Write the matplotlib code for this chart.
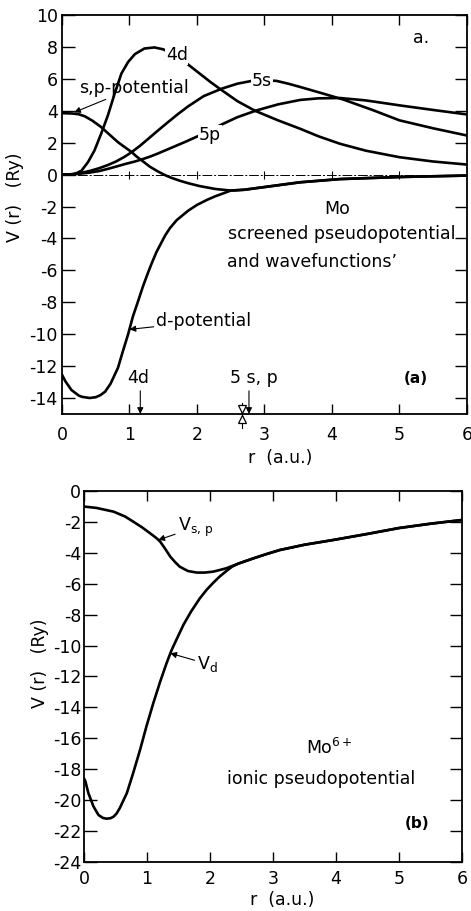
import matplotlib
matplotlib.use('Agg')
import matplotlib.pyplot as plt

plt.rcParams['font.family'] = ['DejaVu Sans']
plt.rcParams['font.size'] = 12.5
plt.rcParams['mathtext.default'] = 'regular'

# ---- panel (a): screened pseudopotential and wavefunctions ----
sp_r = [0, 0.15, 0.25, 0.34, 0.45, 0.58, 0.7, 0.83, 0.93, 1.03, 1.1, 1.2, 1.3, 1.42, 1.53,
        1.62, 1.75, 1.87, 2.04, 2.27, 2.5, 2.7, 3.0, 3.53, 4.12, 5.0, 6.0]
sp_v = [3.85, 3.83, 3.78, 3.65, 3.38, 2.98, 2.52, 2.03, 1.72, 1.42, 1.15, 0.83, 0.5, 0.2,
        -0.04, -0.2, -0.39, -0.54, -0.72, -0.9, -1.0, -0.95, -0.78, -0.48, -0.28, -0.15, -0.06]

d_r = [0, 0.05, 0.14, 0.25, 0.3, 0.41, 0.5, 0.57, 0.64, 0.72, 0.83, 0.9, 0.98, 1.05, 1.13,
       1.2, 1.27, 1.33, 1.4, 1.53, 1.6, 1.7, 1.87, 2.0, 2.15, 2.27, 2.4, 2.5, 2.7, 3.0, 3.53,
       4.12, 5.0, 6.0]
d_v = [-12.54, -12.95, -13.5, -13.85, -13.93, -14.0, -13.95, -13.82, -13.6, -13.1, -12.1,
       -11.1, -10.0, -8.9, -7.9, -7.0, -6.2, -5.55, -4.85, -3.8, -3.35, -2.85, -2.26, -1.9,
       -1.58, -1.36, -1.16, -1.0, -0.95, -0.78, -0.48, -0.28, -0.15, -0.06]

wf4d_r = [0, 0.1, 0.16, 0.22, 0.29, 0.385, 0.48, 0.58, 0.68, 0.78, 0.88, 0.98, 1.08, 1.22,
          1.37, 1.5, 1.65, 1.85, 2.04, 2.2, 2.37, 2.6, 2.86, 3.2, 3.53, 3.8, 4.12, 4.5, 5.0,
          5.5, 6.0]
wf4d_v = [0, 0, 0.02, 0.1, 0.25, 0.78, 1.5, 2.56, 3.71, 5.07, 6.33, 7.06, 7.55, 7.9, 7.97,
          7.85, 7.55, 6.96, 6.33, 5.8, 5.28, 4.6, 4.0, 3.4, 2.87, 2.4, 1.93, 1.5, 1.09, 0.82,
          0.63]

wf5s_r = [0, 0.1, 0.2, 0.3, 0.43, 0.55, 0.68, 0.8, 0.92, 1.03, 1.16, 1.28, 1.41, 1.56, 1.72,
          1.87, 2.1, 2.37, 2.6, 2.81, 3.0, 3.18, 3.35, 3.53, 3.85, 4.17, 4.6, 5.0, 5.5, 6.0]
wf5s_v = [0, 0.01, 0.05, 0.12, 0.25, 0.4, 0.6, 0.82, 1.1, 1.4, 1.82, 2.25, 2.72, 3.25,
          3.8, 4.28, 4.92, 5.39, 5.7, 5.87, 5.92, 5.87, 5.7, 5.49, 5.1, 4.7, 4.05, 3.4, 2.9,
          2.45]

wf5p_r = [0, 0.2, 0.4, 0.55, 0.68, 0.8, 0.95, 1.08, 1.18, 1.3, 1.42, 1.62, 1.82, 2.02, 2.2,
          2.37, 2.6, 2.88, 3.2, 3.53, 3.8, 4.12, 4.5, 5.0, 5.5, 6.0]
wf5p_v = [0, 0.03, 0.12, 0.22, 0.36, 0.5, 0.68, 0.82, 0.95, 1.12, 1.32, 1.68, 2.04, 2.42,
          2.8, 3.15, 3.6, 4.02, 4.4, 4.68, 4.78, 4.8, 4.65, 4.34, 4.05, 3.77]

# radii marked on the r axis
r_4d_mark = 1.16
r_5sp_mark = 2.77
r_ion_mark = 2.67

# ---- panel (b): Mo6+ ionic pseudopotential ----
vsp_r = [0, 0.2, 0.47, 0.65, 0.78, 0.92, 1.05, 1.15, 1.21, 1.29, 1.37, 1.45, 1.52, 1.65,
         1.79, 1.92, 2.05, 2.15, 2.26, 2.35, 2.45, 2.69, 2.9, 3.11, 3.5, 3.96, 4.5, 5.0, 5.5,
         6.0]
vsp_v = [-1.01, -1.1, -1.34, -1.65, -1.98, -2.35, -2.74, -3.05, -3.28, -3.75, -4.25, -4.62,
         -4.9, -5.18, -5.28, -5.28, -5.22, -5.12, -5.0, -4.86, -4.7, -4.36, -4.08, -3.82,
         -3.48, -3.17, -2.78, -2.4, -2.12, -1.88]

vd_r = [0, 0.02, 0.07, 0.15, 0.23, 0.3, 0.36, 0.42, 0.47, 0.52, 0.57, 0.68, 0.78, 0.89,
        0.99, 1.1, 1.21, 1.31, 1.39, 1.47, 1.58, 1.7, 1.84, 1.95, 2.05, 2.15, 2.26, 2.35,
        2.45, 2.69, 2.9, 3.11, 3.5, 3.96, 4.5, 5.0, 5.5, 6.0]
vd_v = [-18.6, -18.75, -19.55, -20.4, -20.96, -21.15, -21.2, -21.17, -21.07, -20.85, -20.5,
        -19.55, -18.26, -16.75, -15.25, -13.73, -12.33, -11.15, -10.3, -9.6, -8.65, -7.8,
        -6.94, -6.38, -5.95, -5.55, -5.18, -4.9, -4.7, -4.36, -4.08, -3.82, -3.48, -3.17,
        -2.78, -2.4, -2.12, -1.88]

LW = 1.9
ARROW = dict(arrowstyle='-|>', lw=0.8, color='k', shrinkA=0, shrinkB=0,
             mutation_scale=9)
WHITE = dict(fc='white', ec='none', pad=0.5)


def style_axes(ax, ylim, yticks):
    ax.set_xlim(0, 6)
    ax.set_ylim(*ylim)
    ax.set_xticks(range(0, 7))
    ax.set_yticks(yticks)
    ax.set_yticklabels([str(t) for t in yticks])
    ax.tick_params(axis='y', direction='in', length=9, width=1, left=True, right=True, pad=3)
    ax.tick_params(axis='x', direction='in', length=7, width=1, top=True, bottom=True, pad=9)
    for s in ax.spines.values():
        s.set_linewidth(1.3)


fig = plt.figure(figsize=(4.71, 9.11), dpi=100)

# panel a
ax1 = fig.add_axes([0.1316, 0.5456, 0.8599, 0.4379])
style_axes(ax1, (-15, 10), list(range(10, -15, -2)))
ax1.axhline(0, color='k', lw=0.7, ls=(0, (10, 2, 2, 2)))
ax1.plot(range(1, 6), [0] * 5, ls='none', marker='|', ms=6, mew=0.8, color='k')

ax1.plot(d_r, d_v, color='k', lw=LW)
ax1.plot(sp_r, sp_v, color='k', lw=LW)
ax1.plot(wf4d_r, wf4d_v, color='k', lw=LW)
ax1.plot(wf5s_r, wf5s_v, color='k', lw=LW)
ax1.plot(wf5p_r, wf5p_v, color='k', lw=LW)

ax1.text(1.70, 7.5, '4d', ha='center', va='center', bbox=WHITE, zorder=5)
ax1.text(2.96, 5.85, '5s', ha='center', va='center', bbox=WHITE, zorder=5)
ax1.text(2.19, 2.48, '5p', ha='center', va='center', bbox=WHITE, zorder=5)
ax1.annotate('s,p-potential', xy=(0.18, 3.9), xytext=(0.26, 5.45),
             ha='left', va='center', arrowprops=ARROW)
ax1.annotate('d-potential', xy=(1.0, -9.7), xytext=(1.4, -9.2),
             ha='left', va='center', arrowprops=ARROW)

ax1.text(5.32, 8.55, 'a.', ha='center', va='center')
ax1.text(4.08, -2.15, 'Mo', ha='center', va='center')
ax1.text(4.15, -3.7, 'screened pseudopotential', ha='center', va='center')
ax1.text(3.7, -5.5, 'and wavefunctions\u2019', ha='center', va='center')
ax1.text(5.24, -12.77, '(a)', ha='center', va='center', fontweight='bold', fontsize=11)

# radius markers on the r axis
ax1.text(1.13, -12.75, '4d', ha='center', va='center')
ax1.annotate('', xy=(r_4d_mark, -15), xytext=(r_4d_mark, -13.55), arrowprops=ARROW)
ax1.text(2.84, -12.75, '5 s, p', ha='center', va='center')
ax1.annotate('', xy=(r_5sp_mark, -15), xytext=(r_5sp_mark, -13.55), arrowprops=ARROW)
ax1.plot([r_ion_mark, r_ion_mark], [-14.3, -15.9], color='k', lw=0.8, clip_on=False)
ax1.plot([r_ion_mark], [-14.7], marker='v', ms=6, mfc='white', mec='k', mew=0.9,
         clip_on=False, zorder=6)
ax1.plot([r_ion_mark], [-15.3], marker='^', ms=6, mfc='white', mec='k', mew=0.9,
         clip_on=False, zorder=6)

ax1.text(-0.116, 0.544, 'V (r)   (Ry)', rotation=90, transform=ax1.transAxes,
         ha='center', va='center')
ax1.text(0.538, -0.11, 'r  (a.u.)', transform=ax1.transAxes, ha='center', va='center')

# panel b
ax2 = fig.add_axes([0.1783, 0.0538, 0.8025, 0.4073])
style_axes(ax2, (-24, 0), list(range(0, -25, -2)))
ax2.tick_params(axis='x', pad=6)
ax2.tick_params(axis='y', pad=2)

ax2.plot(vd_r, vd_v, color='k', lw=LW)
ax2.plot(vsp_r, vsp_v, color='k', lw=LW)

ax2.annotate('V$_{s,\\,p}$', xy=(1.18, -3.17), xytext=(1.49, -2.35),
             ha='left', va='center', arrowprops=ARROW)
ax2.annotate('V$_{d}$', xy=(1.37, -10.5), xytext=(1.8, -11.2),
             ha='left', va='center', arrowprops=ARROW)

ax2.text(3.9, -16.6, 'Mo$^{6+}$', ha='center', va='center')
ax2.text(3.77, -18.6, 'ionic pseudopotential', ha='center', va='center')
ax2.text(5.29, -21.5, '(b)', ha='center', va='center', fontweight='bold', fontsize=11)

ax2.text(-0.116, 0.536, 'V (r)   (Ry)', rotation=90, transform=ax2.transAxes,
         ha='center', va='center')
ax2.text(0.524, -0.102, 'r  (a.u.)', transform=ax2.transAxes, ha='center', va='center')

fig.savefig('out.png', dpi=100)
